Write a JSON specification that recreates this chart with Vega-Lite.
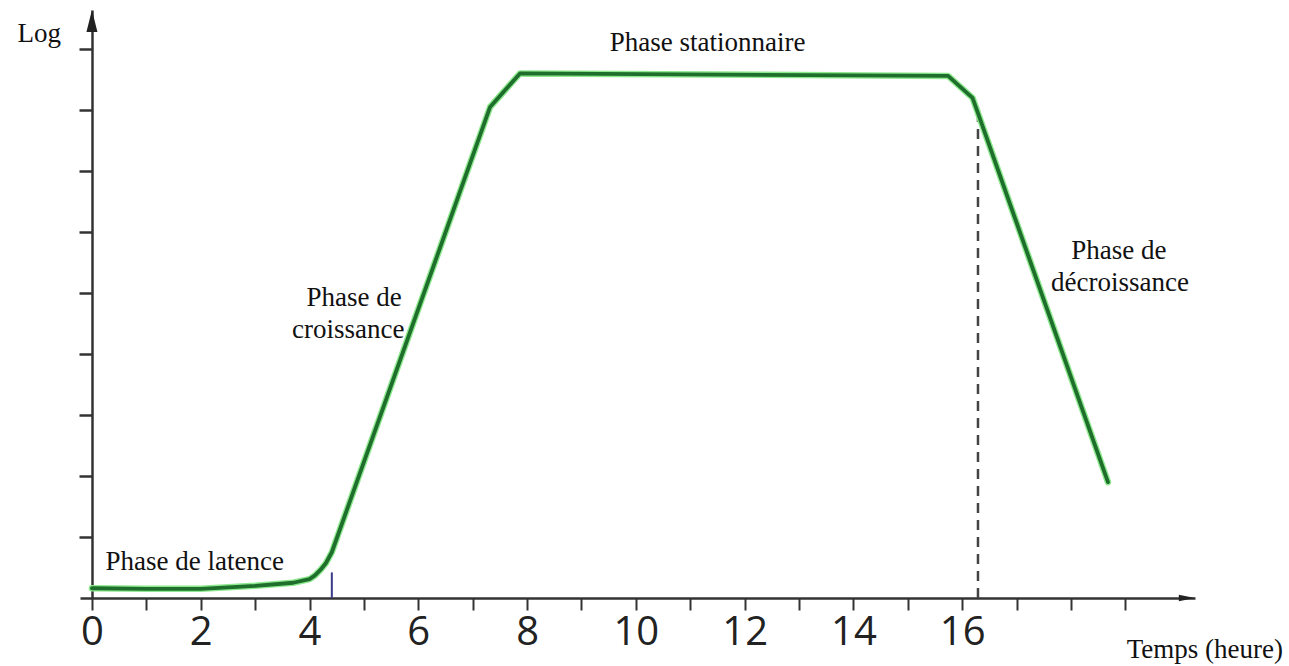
{
  "$schema": "https://vega.github.io/schema/vega-lite/v6.json",
  "autosize": {"type": "none"},
  "padding": {"left": 80, "top": 10, "right": 94, "bottom": 68},
  "width": 1115,
  "height": 588,
  "background": "white",
  "config": {"view": {"stroke": null}},
  "datasets": {
    "curve": [
      {"t": 0, "v": 0.16}, {"t": 1, "v": 0.15}, {"t": 2, "v": 0.15}, {"t": 3, "v": 0.2},
      {"t": 3.7, "v": 0.25}, {"t": 4.0, "v": 0.31}, {"t": 4.1, "v": 0.37}, {"t": 4.2, "v": 0.46},
      {"t": 4.3, "v": 0.57}, {"t": 4.41, "v": 0.75}, {"t": 7.32, "v": 8.05}, {"t": 7.87, "v": 8.6},
      {"t": 15.74, "v": 8.56}, {"t": 16.19, "v": 8.2}, {"t": 16.29, "v": 7.95}, {"t": 18.68, "v": 1.9}
    ],
    "dash": [{"t": 16.29, "v": 0}, {"t": 16.29, "v": 7.9}],
    "mark": [{"t": 4.41, "v": 0}, {"t": 4.41, "v": 0.42}],
    "labels": [
      {"label": "Log", "t": -0.97, "v": 9.25},
      {"label": "Phase stationnaire", "t": 11.32, "v": 9.1},
      {"label": "Phase de", "t": 4.82, "v": 4.92},
      {"label": "croissance", "t": 4.71, "v": 4.4},
      {"label": "Phase de latence", "t": 1.89, "v": 0.59},
      {"label": "Phase de", "t": 18.88, "v": 5.69},
      {"label": "décroissance", "t": 18.9, "v": 5.16},
      {"label": "Temps (heure)", "t": 20.46, "v": -0.85}
    ],
    "xarrow": [{"t": 20.13, "v": 0}],
    "yarrow": [{"t": 0, "v": 9.46}]
  },
  "layer": [
    {
      "data": {"name": "dash"},
      "mark": {"type": "line", "color": "#444444", "strokeWidth": 2.5, "strokeDash": [10, 7]},
      "encoding": {
        "x": {"field": "t", "type": "quantitative",
          "scale": {"domain": [-0.22, 20.28], "nice": false, "zero": false},
          "axis": {
            "values": [0, 1, 2, 3, 4, 5, 6, 7, 8, 9, 10, 11, 12, 13, 14, 15, 16, 17, 18, 19],
            "labelExpr": "datum.value % 2 == 0 && datum.value <= 16 ? datum.label : ''",
            "domainColor": "#333333", "domainWidth": 2.5,
            "tickColor": "#333333", "tickWidth": 2, "tickSize": 12,
            "labelFont": "Open Sans", "labelFontSize": 40, "labelColor": "#222222",
            "labelPadding": 2, "labelOverlap": false, "labelFlush": false,
            "title": null, "grid": false
          }
        },
        "y": {"field": "v", "type": "quantitative",
          "scale": {"domain": [0, 9.64], "nice": false, "zero": false},
          "axis": {
            "values": [1, 2, 3, 4, 5, 6, 7, 8, 9],
            "labels": false, "offset": -12,
            "domainColor": "#333333", "domainWidth": 2.5,
            "tickColor": "#333333", "tickWidth": 2.5, "tickSize": 13,
            "title": null, "grid": false
          }
        }
      }
    },
    {
      "data": {"name": "mark"},
      "mark": {"type": "line", "color": "#3a3a8a", "strokeWidth": 2},
      "encoding": {
        "x": {"field": "t", "type": "quantitative"},
        "y": {"field": "v", "type": "quantitative"}
      }
    },
    {
      "data": {"name": "curve"},
      "mark": {"type": "line", "color": "#8ee88e", "strokeWidth": 6.5, "strokeJoin": "round", "strokeCap": "round"},
      "encoding": {
        "x": {"field": "t", "type": "quantitative"},
        "y": {"field": "v", "type": "quantitative"}
      }
    },
    {
      "data": {"name": "curve"},
      "mark": {"type": "line", "color": "#1e6e2c", "strokeWidth": 3.8, "strokeJoin": "round", "strokeCap": "round"},
      "encoding": {
        "x": {"field": "t", "type": "quantitative"},
        "y": {"field": "v", "type": "quantitative"}
      }
    },
    {
      "data": {"name": "xarrow"},
      "mark": {"type": "point", "shape": "M-1,-0.4L1,0L-1,0.4Z", "filled": true, "color": "#222222", "opacity": 1, "size": 256},
      "encoding": {
        "x": {"field": "t", "type": "quantitative"},
        "y": {"field": "v", "type": "quantitative"}
      }
    },
    {
      "data": {"name": "yarrow"},
      "mark": {"type": "point", "shape": "M-0.5,1L0,-1L0.5,1Z", "filled": true, "color": "#222222", "opacity": 1, "size": 484},
      "encoding": {
        "x": {"field": "t", "type": "quantitative"},
        "y": {"field": "v", "type": "quantitative"}
      }
    },
    {
      "data": {"name": "labels"},
      "mark": {"type": "text", "font": "Liberation Serif", "fontSize": 27, "color": "#111111", "baseline": "middle", "align": "center"},
      "encoding": {
        "x": {"field": "t", "type": "quantitative"},
        "y": {"field": "v", "type": "quantitative"},
        "text": {"field": "label"}
      }
    }
  ]
}
